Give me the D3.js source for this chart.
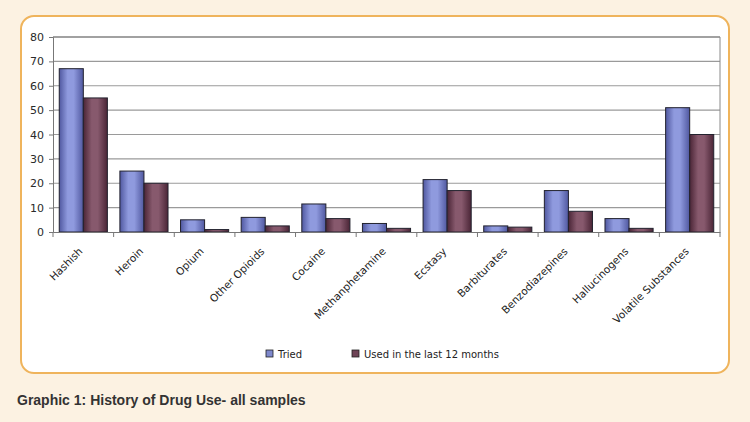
<!DOCTYPE html>
<html><head><meta charset="utf-8">
<script src="https://cdn.jsdelivr.net/npm/d3@7"></script>
<style>
html,body{margin:0;padding:0;background:#fcf2e2;}
svg{display:block;}
</style></head>
<body>
<svg id="c" width="750" height="422"></svg>
<script>
const categories = ["Hashish","Heroin","Opium","Other Opioids","Cocaine","Methanphetamine","Ecstasy","Barbiturates","Benzodiazepines","Hallucinogens","Volatile Substances"];
const tried = [67, 25, 5, 6, 11.5, 3.5, 21.5, 2.5, 17, 5.5, 51];
const usedLast12 = [55, 20, 1, 2.5, 5.5, 1.5, 17, 2, 8.5, 1.5, 40];
const seriesNames = ["Tried", "Used in the last 12 months"];
const yTicks = [0,10,20,30,40,50,60,70,80];
const title = "Graphic 1: History of Drug Use- all samples";

const svg = d3.select("#c");
const defs = svg.append("defs");
function grad(id, edge, mid) {
  const g = defs.append("linearGradient").attr("id", id).attr("x1","0%").attr("x2","100%").attr("y1","0%").attr("y2","0%");
  g.append("stop").attr("offset","0%").attr("stop-color", edge);
  g.append("stop").attr("offset","35%").attr("stop-color", mid);
  g.append("stop").attr("offset","60%").attr("stop-color", mid);
  g.append("stop").attr("offset","100%").attr("stop-color", edge);
}
grad("gTried", "#5058a0", "#8f9ade");
grad("gUsed", "#4a2536", "#87596d");

// card
svg.append("rect").attr("x",21).attr("y",16).attr("width",708).attr("height",357)
  .attr("rx",13).attr("fill","#ffffff").attr("stroke","#efb45c").attr("stroke-width",2);

const m = {l:53, r:720, t:37, b:232};
const x = d3.scaleBand().domain(categories).range([m.l, m.r]).paddingInner(0).paddingOuter(0);
const x1 = d3.scaleBand().domain(seriesNames).range([0, x.bandwidth()]).paddingOuter(0.26).paddingInner(0);
const y = d3.scaleLinear().domain([0,80]).range([m.b, m.t]);

// gridlines
svg.append("g").selectAll("line").data(yTicks.filter(d=>d>0 && d<80)).join("line")
  .attr("x1", m.l).attr("x2", m.r).attr("y1", d=>y(d)).attr("y2", d=>y(d))
  .attr("stroke","#9a9a9a").attr("stroke-width",1.2);
// top border & right border
svg.append("line").attr("x1",m.l).attr("x2",m.r).attr("y1",y(80)).attr("y2",y(80)).attr("stroke","#444").attr("stroke-width",1.2);
svg.append("line").attr("x1",m.r).attr("x2",m.r).attr("y1",m.t).attr("y2",m.b).attr("stroke","#888").attr("stroke-width",1);

// bars
const data = categories.map((c,i)=>({c, vals:[{s:seriesNames[0], v:tried[i]},{s:seriesNames[1], v:usedLast12[i]}]}));
const grp = svg.append("g").selectAll("g").data(data).join("g").attr("transform", d=>`translate(${x(d.c)},0)`);
grp.selectAll("rect").data(d=>d.vals).join("rect")
  .attr("x", d=>x1(d.s)).attr("width", x1.bandwidth())
  .attr("y", d=>y(d.v)).attr("height", d=>y(0)-y(d.v))
  .attr("fill", d=>d.s===seriesNames[0] ? "url(#gTried)" : "url(#gUsed)")
  .attr("stroke","#22222e").attr("stroke-width",1);

// y axis
const ya = svg.append("g").attr("transform",`translate(${m.l},0)`)
  .call(d3.axisLeft(y).tickValues(yTicks).tickSize(4).tickPadding(5));
ya.select(".domain").attr("stroke","#777");
ya.selectAll(".tick line").attr("stroke","#777");
ya.selectAll("text").attr("font-family","DejaVu Sans, sans-serif").attr("font-size","11px").attr("fill","#2a2a2a");

// x axis
const xa = svg.append("g").attr("transform",`translate(0,${m.b})`)
  .call(d3.axisBottom(x).tickSize(0).tickFormat(""));
xa.select(".domain").attr("stroke","#777");
const bounds = d3.range(categories.length+1).map(i=> m.l + i*x.step());
xa.selectAll(".bt").data(bounds).join("line").attr("class","bt")
  .attr("x1",d=>d).attr("x2",d=>d).attr("y1",0).attr("y2",5).attr("stroke","#777");
svg.append("g").selectAll("text").data(categories).join("text")
  .attr("transform", d=>`translate(${x(d)+x.bandwidth()/2},${m.b+20}) rotate(-45)`)
  .attr("text-anchor","end").attr("font-family","DejaVu Sans, sans-serif").attr("font-size","10.5px").attr("fill","#222")
  .text(d=>d);

// legend
const leg = svg.append("g");
const legItems = [{n:seriesNames[0], f:"#7e88cc", x:266},{n:seriesNames[1], f:"#6e4356", x:352}];
leg.selectAll("rect").data(legItems).join("rect")
  .attr("x",d=>d.x).attr("y",350).attr("width",7).attr("height",7)
  .attr("fill",d=>d.f).attr("stroke","#222").attr("stroke-width",0.8);
leg.selectAll("text").data(legItems).join("text")
  .attr("x",d=>d.x+12).attr("y",358).attr("font-family","DejaVu Sans, sans-serif").attr("font-size","10px").attr("fill","#222")
  .text(d=>d.n);

// title
svg.append("text").attr("x",17).attr("y",405).attr("font-family","Liberation Sans, Arial, sans-serif")
  .attr("font-weight","bold").attr("font-size","14px").attr("fill","#333").text(title);
</script>
</body></html>
